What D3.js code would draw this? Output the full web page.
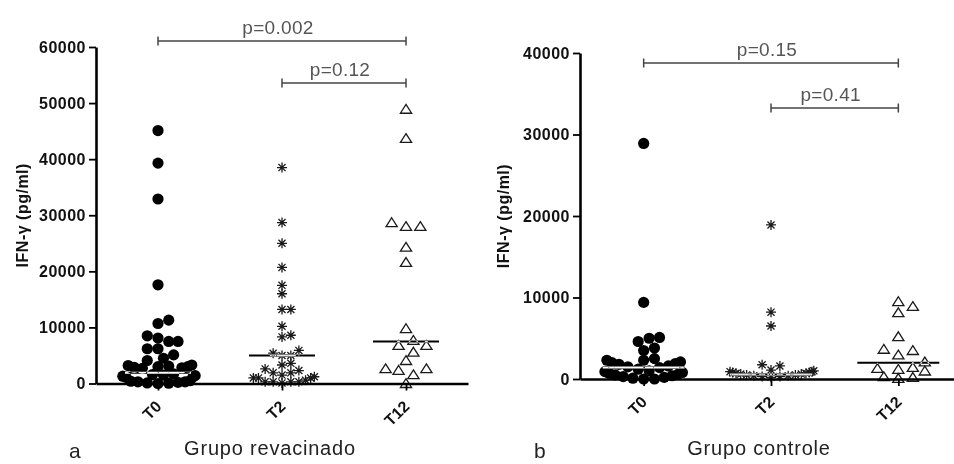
<!DOCTYPE html>
<html>
<head>
<meta charset="utf-8">
<script src="https://cdn.jsdelivr.net/npm/d3@7"></script>
<style>
  body { margin: 0; background: #fff; }
  svg { display: block; font-family: "Liberation Sans", Arial, sans-serif; }
</style>
</head>
<body>
<div id="chart"></div>
<script>
// Groups on the x axis
var categories = ['T0', 'T2', 'T12'];

// Grupo revacinado (panel a), IFN-gamma in pg/ml
var revacinadoT0 = [45100, 39300, 32900, 17600, 11300, 10700, 8500, 8100, 7500,
                    7500, 6200, 6200, 5100, 4500, 4100, 3300, 3200, 3100, 3000,
                    3000, 2900, 2800, 2700, 1700, 1600, 1500, 1400, 1300, 1200,
                    1100, 500, 400, 300, 300, 200, 100, 50, 0];
var revacinadoT2 = [38500, 28700, 25000, 20700, 17500, 16000, 13200, 13200,
                    10200, 8600, 8300, 5900, 5400, 5000, 5000, 3600, 3300, 2600,
                    2300, 1900, 1900, 1500, 1200, 1000, 1000, 1000, 600, 300,
                    300, 300, 300, 100];
var revacinadoT12 = [48900, 43700, 28700, 28000, 28000, 24300, 21600, 9800,
                     7700, 6800, 6800, 5600, 4100, 2650, 2650, 2350, 1570, 0];
var revacinadoMedians = [1900, 5000, 7500];
var revacinadoTicks = [0, 10000, 20000, 30000, 40000, 50000, 60000];
var revacinadoPValues = ['p=0.002', 'p=0.12'];

// Grupo controle (panel b)
var controleT0 = [28900, 9400, 5100, 5000, 4600, 3800, 3500, 2300, 2100, 2500,
                  2300, 2000, 1900, 1800, 1600, 1500, 1400, 1200, 1000, 900,
                  800, 700, 600, 500, 400, 300, 200, 100, 0, 0];
var controleT2 = [18900, 8200, 6500, 1750, 1600, 1100, 1000, 900, 900, 800, 800,
                  700, 700, 600, 600, 500, 500, 400, 400, 300, 300, 200];
var controleT12 = [9500, 8900, 8150, 5200, 3650, 3500, 2950, 2100, 1430, 1300,
                   1190, 980, 280, 200, 80];
var controleMedians = [1400, 550, 2000];
var controleTicks = [0, 10000, 20000, 30000, 40000];
var controlePValues = ['p=0.15', 'p=0.41'];

// Pairs compared by the brackets
var comparisons = [['T0', 'T12'], ['T2', 'T12']];

var width = 954, height = 464;

var svg = d3.select('#chart')
            .append('svg')
            .attr('width', width)
            .attr('height', height);

svg.append('rect')
   .attr('width', width)
   .attr('height', height)
   .attr('fill', '#fff');

drawPanel({
  series: [revacinadoT0, revacinadoT2, revacinadoT12],
  medians: revacinadoMedians,
  ticks: revacinadoTicks,
  pValues: revacinadoPValues,
  bracketLevels: [61070, 53580],
  axisX: 96, xEnd: 468, yBottom: 383.5, yTop: 47,
  medianHalf: 33, halfSpread: 40,
  title: 'Grupo revacinado', letter: 'a', letterX: 69, labelX: 22
});

drawPanel({
  series: [controleT0, controleT2, controleT12],
  medians: controleMedians,
  ticks: controleTicks,
  pValues: controlePValues,
  bracketLevels: [38770, 33250],
  axisX: 580, xEnd: 962, yBottom: 379, yTop: 53,
  medianHalf: 41, halfSpread: 47,
  title: 'Grupo controle', letter: 'b', letterX: 534, labelX: 503
});

// Scatter dot layout: each point takes the nearest free slot beside the
// group centre (gap apart within a row of rowHeight), then the offsets are
// squeezed softly so dense rows stay inside halfSpread
function swarm(values, y, gap, rowHeight, halfSpread) {
  var step = gap / 2;
  var placed = [];
  values.slice().sort(d3.ascending).forEach(function(v) {
    var py = y(v);
    for (var k = 0; k < 400; k++) {
      var off = k === 0 ? 0 : (k % 2 ? 1 : -1) * Math.ceil(k / 2) * step;
      var free = placed.every(function(p) {
        var ex = (p.dx - off) / gap, ey = (p.y - py) / rowHeight;
        return ex * ex + ey * ey >= 1;
      });
      if (free) {
        placed.push({ value: v, dx: off, y: py });
        break;
      }
    }
  });
  placed.forEach(function(p) {
    p.dx = halfSpread * Math.tanh(p.dx / halfSpread);
  });
  return placed;
}

// Symbol paths
function asteriskPath(r) {
  var d = '';
  for (var i = 0; i < 4; i++) {
    var a = i * Math.PI / 4;
    var cx = Math.cos(a) * r, cy = Math.sin(a) * r;
    d += 'M' + (-cx) + ',' + (-cy) + 'L' + cx + ',' + cy;
  }
  return d;
}

function drawPanel(cfg) {

  var x = d3.scalePoint()
            .domain(categories)
            .range([cfg.axisX, cfg.xEnd])
            .padding(0.5);

  var y = d3.scaleLinear()
            .domain([0, d3.max(cfg.ticks)])
            .range([cfg.yBottom, cfg.yTop]);

  var g = svg.append('g');

  // Points
  var shapes = ['circle', 'asterisk', 'triangle'];
  var gaps = { circle: 11, asterisk: 9, triangle: 15 };
  var rowHeights = { circle: 9, asterisk: 7, triangle: 9 };
  cfg.series.forEach(function(values, i) {
    var cat = categories[i];
    var shape = shapes[i];
    var pts = swarm(values, y, gaps[shape], rowHeights[shape], cfg.halfSpread);
    var sel = g.append('g')
               .selectAll('.pt')
               .data(pts)
               .enter();
    if (shape === 'circle') {
      sel.append('circle')
         .attr('cx', function(d) { return x(cat) + d.dx; })
         .attr('cy', function(d) { return d.y; })
         .attr('r', 5.6)
         .attr('fill', '#000');
    } else if (shape === 'asterisk') {
      sel.append('path')
         .attr('transform', function(d) {
           return 'translate(' + (x(cat) + d.dx) + ',' + d.y + ')';
         })
         .attr('d', asteriskPath(5))
         .attr('stroke', '#1a1a1a')
         .attr('stroke-width', 1.3)
         .attr('fill', 'none');
    } else {
      sel.append('path')
         .attr('transform', function(d) {
           return 'translate(' + (x(cat) + d.dx) + ',' + d.y + ')';
         })
         .attr('d', 'M0,-4.8L5.6,4L-5.6,4Z')
         .attr('stroke', '#1a1a1a')
         .attr('stroke-width', 1.3)
         .attr('fill', 'none');
    }
  });

  // Median lines (inverted where they cross filled points)
  g.append('g')
   .selectAll('line')
   .data(cfg.medians)
   .enter()
   .append('line')
   .attr('x1', function(d, i) { return x(categories[i]) - cfg.medianHalf; })
   .attr('x2', function(d, i) { return x(categories[i]) + cfg.medianHalf; })
   .attr('y1', function(d) { return y(d); })
   .attr('y2', function(d) { return y(d); })
   .attr('stroke', '#fff')
   .attr('stroke-width', 2)
   .style('mix-blend-mode', 'difference');

  // Y axis
  var yAxis = g.append('g')
               .attr('transform', 'translate(' + cfg.axisX + ',0)')
               .call(d3.axisLeft(y)
                       .tickValues(cfg.ticks)
                       .tickSize(7)
                       .tickSizeOuter(0)
                       .tickPadding(3)
                       .tickFormat(d3.format('d')));
  yAxis.select('.domain').attr('stroke', '#000').attr('stroke-width', 2.6);
  yAxis.selectAll('.tick line').attr('stroke', '#000').attr('stroke-width', 1.8);
  yAxis.selectAll('.tick text')
       .attr('fill', '#111')
       .style('font-size', '16px')
       .style('font-weight', 'bold')
       .style('letter-spacing', '0.5px');

  // X axis
  var xAxis = g.append('g')
               .attr('transform', 'translate(0,' + y(0) + ')')
               .call(d3.axisBottom(x).tickSize(7).tickSizeOuter(0));
  xAxis.select('.domain').attr('stroke', '#000').attr('stroke-width', 2.6);
  xAxis.selectAll('.tick line').attr('stroke', '#000').attr('stroke-width', 1.8);
  xAxis.selectAll('.tick text')
       .attr('y', 0)
       .attr('dy', 0)
       .attr('transform', 'translate(4,24) rotate(-45)')
       .attr('text-anchor', 'end')
       .attr('fill', '#111')
       .style('font-size', '16px')
       .style('font-weight', 'bold');

  // Axis titles
  svg.append('text')
     .attr('transform', 'translate(' + cfg.labelX + ',' +
                        ((cfg.yBottom + cfg.yTop) / 2) + ') rotate(-90)')
     .attr('text-anchor', 'middle')
     .attr('dy', '0.35em')
     .attr('fill', '#111')
     .style('font-size', '16px')
     .style('font-weight', 'bold')
     .style('letter-spacing', '0.5px')
     .text('IFN-\u03b3 (pg/ml)');

  svg.append('text')
     .attr('x', x('T2') - 12)
     .attr('y', 455)
     .attr('text-anchor', 'middle')
     .attr('fill', '#222')
     .style('font-size', '20px')
     .style('letter-spacing', '0.8px')
     .text(cfg.title);

  svg.append('text')
     .attr('x', cfg.letterX)
     .attr('y', 458)
     .attr('fill', '#222')
     .style('font-size', '21px')
     .text(cfg.letter);

  // Significance brackets
  comparisons.forEach(function(pair, i) {
    var x1 = x(pair[0]), x2 = x(pair[1]), by = y(cfg.bracketLevels[i]);
    var b = g.append('g')
             .attr('stroke', '#444')
             .attr('stroke-width', 1.5);
    b.append('line').attr('x1', x1).attr('x2', x2).attr('y1', by).attr('y2', by);
    b.append('line').attr('x1', x1).attr('x2', x1).attr('y1', by - 4.5).attr('y2', by + 4.5);
    b.append('line').attr('x1', x2).attr('x2', x2).attr('y1', by - 4.5).attr('y2', by + 4.5);
    g.append('text')
     .attr('x', (x1 + x2) / 2 - 4)
     .attr('y', by - 7)
     .attr('text-anchor', 'middle')
     .attr('fill', '#555')
     .style('font-size', '19px')
     .style('letter-spacing', '0.3px')
     .text(cfg.pValues[i]);
  });
}
</script>
</body>
</html>
